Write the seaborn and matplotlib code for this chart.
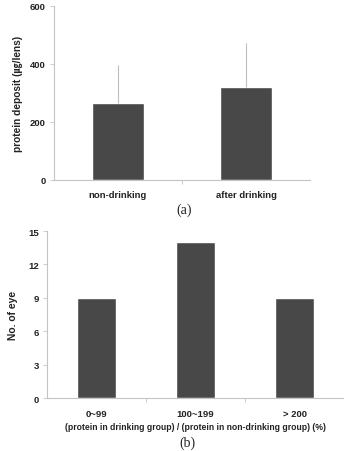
"""Protein deposit before/after drinking, and ratio distribution"""
import matplotlib
matplotlib.use("Agg")
import matplotlib.pyplot as plt
import numpy as np
import pandas as pd
import seaborn as sns

# panel (a)
groups_a = ["non-drinking", "after drinking"]
deposit_mean = [265, 322]
deposit_sd = [130, 150]
yticks_a = [0, 200, 400, 600]

# panel (b)
groups_b = ["0~99", "100~199", "> 200"]
eye_counts = [9, 14, 9]
yticks_b = [0, 3, 6, 9, 12, 15]

BAR = "#484848"
AXC = "#c4c4c4"
SANS = ["Liberation Sans", "DejaVu Sans"]

sns.set_theme(style="white")
plt.rcParams["font.family"] = SANS

fig = plt.figure(figsize=(3.44, 4.52), dpi=100)
ax_a = fig.add_axes([0.157, 0.5996, 0.744, 0.385])
ax_b = fig.add_axes([0.137, 0.117, 0.863, 0.3697])


def style_axes(ax, yticks):
    sns.despine(ax=ax)
    for s in ("left", "bottom"):
        ax.spines[s].set_color(AXC)
        ax.spines[s].set_linewidth(0.8)
    ax.set_yticks(yticks)
    ax.set_ylim(yticks[0], yticks[-1])
    ax.tick_params(axis="y", which="major", length=3, width=0.6, color=AXC,
                   direction="out", labelsize=6.8, pad=3, left=True)
    ax.tick_params(axis="x", which="major", length=0, labelsize=6.8, pad=7.5)
    ax.tick_params(axis="x", which="minor", length=3, width=0.6, color=AXC,
                   direction="out", bottom=True)
    for lab in ax.get_yticklabels() + ax.get_xticklabels():
        lab.set_fontweight("bold")
        lab.set_color("#222222")
    ax.grid(False)


# (a)
df_a = pd.DataFrame({"group": groups_a, "deposit": deposit_mean})
sns.barplot(data=df_a, x="group", y="deposit", color=BAR, width=0.4,
            saturation=1, errorbar=None, ax=ax_a)
ax_a.errorbar(np.arange(len(groups_a)), deposit_mean,
              yerr=[np.zeros(len(groups_a)), deposit_sd],
              fmt="none", ecolor="#bdbdbd", elinewidth=0.8, capsize=0,
              zorder=1)
ax_a.set_xlim(-0.5, len(groups_a) - 0.5)
ax_a.set_xticks([0.5], minor=True)
style_axes(ax_a, yticks_a)
ax_a.set_xlabel("")
ax_a.set_ylabel("protein deposit (\u338d/lens)", fontsize=7.3,
                fontweight="bold", color="#222222", labelpad=5,
                family=["Liberation Sans", "Noto Sans CJK KR", "DejaVu Sans"])

# (b)
df_b = pd.DataFrame({"ratio": groups_b, "eyes": eye_counts})
sns.barplot(data=df_b, x="ratio", y="eyes", color=BAR, width=0.4,
            saturation=1, errorbar=None, ax=ax_b)
ax_b.set_xlim(-0.5, len(groups_b) - 0.5)
ax_b.set_xticks([0.5, 1.5], minor=True)
style_axes(ax_b, yticks_b)
ax_b.set_xlabel("(protein in drinking group) / (protein in non-drinking group) (%)",
                fontsize=6.2, fontweight="bold", color="#222222", labelpad=3)
ax_b.set_ylabel("No. of eye", fontsize=7.4, fontweight="bold",
                color="#222222", labelpad=7)

fig.text(184 / 344, 1 - 210 / 452, "(a)", ha="center", va="center",
         fontsize=10, family="Liberation Serif", color="#222222")
fig.text(187 / 344, 1 - 443 / 452, "(b)", ha="center", va="center",
         fontsize=10, family="Liberation Serif", color="#222222")

fig.savefig("out.png", dpi=100)
